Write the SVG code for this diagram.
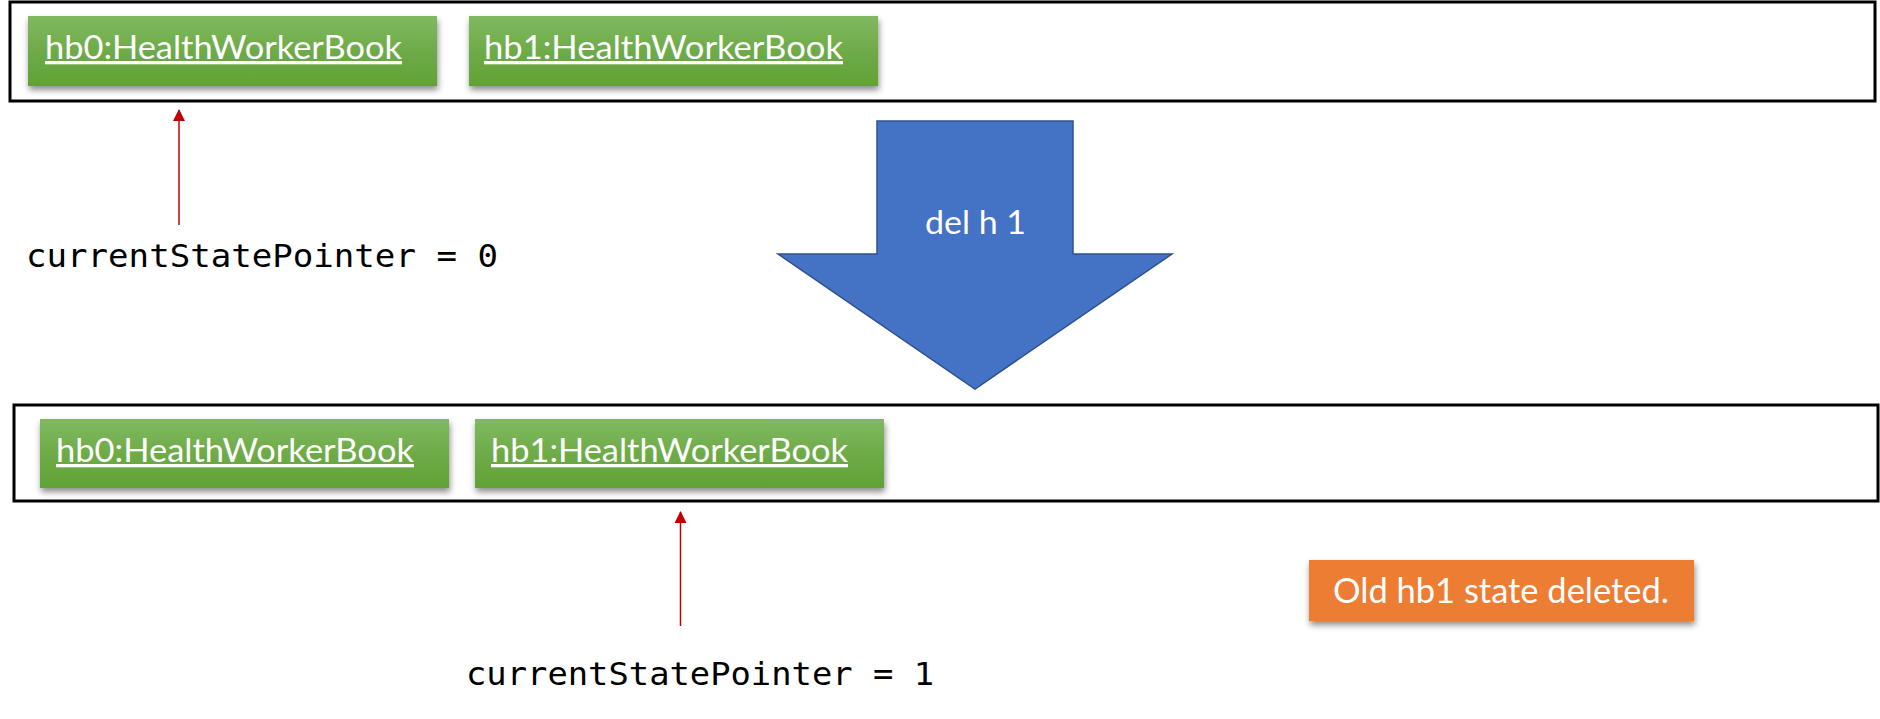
<svg xmlns="http://www.w3.org/2000/svg" width="1880" height="719" viewBox="0 0 1880 719">
<style>
.frame{fill:none;stroke:#000;stroke-width:3}
.obj{fill:url(#green);filter:url(#sh)}
.objtxt{font-family:Lato,"Open Sans",sans-serif;font-size:33px;fill:#fff;text-decoration:underline}
.mono{font-family:"DejaVu Sans Mono","Liberation Mono",monospace;font-size:32px;fill:#000}
.ptr{stroke:#C00000;stroke-width:1.5;fill:none}
</style>
<defs>
<linearGradient id="green" x1="0" y1="0" x2="0" y2="1">
<stop offset="0" stop-color="#80b961"/>
<stop offset="0.5" stop-color="#6eab48"/>
<stop offset="1" stop-color="#61a236"/>
</linearGradient>
<filter id="sh" x="-10%" y="-20%" width="120%" height="150%">
<feDropShadow dx="1" dy="4" stdDeviation="3" flood-color="#000" flood-opacity="0.45"/>
</filter>
<marker id="ah" viewBox="0 0 12 12" refX="11" refY="6" markerWidth="12" markerHeight="12" markerUnits="userSpaceOnUse" orient="auto">
<path d="M0,0 L12,6 L0,12 z" fill="#C00000"/>
</marker>
</defs>

<g id="topFrame"><rect class="frame" x="10" y="2" width="1865" height="99"/></g>
<g id="top_hb0"><rect class="obj" x="28" y="16" width="409" height="70"/><text class="objtxt" x="45" y="59" textLength="357" lengthAdjust="spacingAndGlyphs">hb0:HealthWorkerBook</text></g>
<g id="top_hb1"><rect class="obj" x="469" y="16" width="409" height="70"/><text class="objtxt" x="484" y="59" textLength="359" lengthAdjust="spacingAndGlyphs">hb1:HealthWorkerBook</text></g>

<g id="bottomFrame"><rect class="frame" x="14" y="405" width="1864" height="96"/></g>
<g id="bot_hb0"><rect class="obj" x="40" y="419" width="409" height="69"/><text class="objtxt" x="56" y="462" textLength="358" lengthAdjust="spacingAndGlyphs">hb0:HealthWorkerBook</text></g>
<g id="bot_hb1"><rect class="obj" x="475" y="419" width="409" height="69"/><text class="objtxt" x="491" y="462" textLength="357" lengthAdjust="spacingAndGlyphs">hb1:HealthWorkerBook</text></g>

<g id="delArrow">
<path d="M877,121 L1073,121 L1073,254 L1172,254 L975,389 L778,254 L877,254 Z" fill="#4472C4" stroke="#2F528F" stroke-width="1.5"/>
<text x="925" y="234" textLength="101" lengthAdjust="spacingAndGlyphs" style="font-family:Lato,'Open Sans',sans-serif;font-size:33px;fill:#fff">del h 1</text>
</g>

<g id="pointer0"><text class="mono" x="26" y="267" textLength="472" lengthAdjust="spacingAndGlyphs">currentStatePointer = 0</text></g>
<g id="pointer1"><text class="mono" x="466" y="685" textLength="468" lengthAdjust="spacingAndGlyphs">currentStatePointer = 1</text></g>

<g id="note"><rect x="1309" y="560" width="385" height="61" fill="#ED7D31" filter="url(#sh)"/><text x="1333" y="603" textLength="336" lengthAdjust="spacingAndGlyphs" style="font-family:Lato,'Open Sans',sans-serif;font-size:34px;fill:#fff">Old hb1 state deleted.</text></g>

<g id="connectors">
<line class="ptr" x1="179" y1="225" x2="179" y2="110" marker-end="url(#ah)"/>
<line class="ptr" x1="680.5" y1="626" x2="680.5" y2="512" marker-end="url(#ah)"/>
</g>
</svg>
